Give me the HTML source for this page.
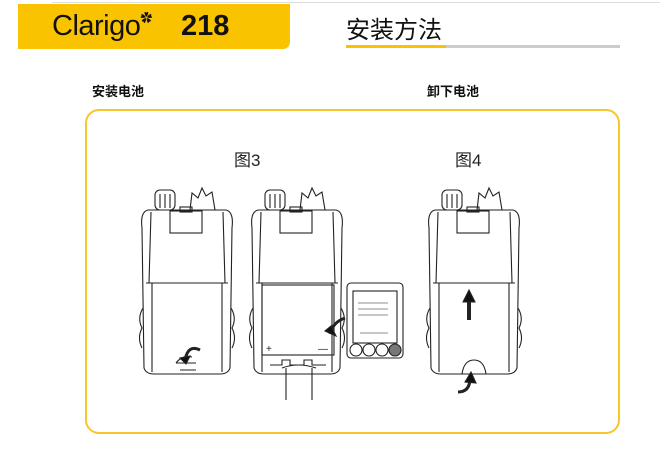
<!DOCTYPE html>
<html><head><meta charset="utf-8"><style>
body{margin:0;width:660px;height:454px;background:#fff;position:relative;overflow:hidden;font-family:"Liberation Sans","Noto Sans CJK SC",sans-serif}
.a{position:absolute;line-height:1}
</style></head><body>
<div class="a" style="left:52px;top:2px;width:608px;height:1px;background:#ddd"></div>
<div class="a" style="left:18px;top:4px;width:272px;height:45px;background:#f9c300;border-bottom-right-radius:7px"></div>
<div class="a" style="left:52px;top:12px;font-size:29px;color:#111;letter-spacing:-0.5px">Clarigo<span style="font-size:12px;vertical-align:top">✿</span></div>
<div class="a" style="left:181px;top:12px;font-size:29px;font-weight:bold;color:#111">218</div>
<div class="a" style="left:346px;top:19px;font-size:24px;color:#111">安装方法</div>
<div class="a" style="left:346px;top:45px;width:100px;height:3px;background:#f9c300"></div>
<div class="a" style="left:446px;top:45px;width:174px;height:3px;background:#ccc"></div>
<div class="a" style="left:92px;top:85px;font-size:13px;font-weight:bold;color:#111">安装电池</div>
<div class="a" style="left:427px;top:85px;font-size:13px;font-weight:bold;color:#111">卸下电池</div>
<div class="a" style="left:85px;top:109px;width:531px;height:321px;border:2px solid #f7c62a;border-radius:14px"></div>
<div class="a" style="left:234px;top:152px;font-size:17px;color:#222">图3</div>
<div class="a" style="left:455px;top:152px;font-size:17px;color:#222">图4</div>
<svg class="a" style="left:0;top:0" width="660" height="454" fill="none" stroke="#222" stroke-width="1.1">
<defs>
<g id="r">
<rect x="15" y="2" width="20" height="20" rx="5"/><path d="M20 6v14M25 6v14M30 6v14"/>
<path d="M50 22 L52 5 L58 10 L62 0 L66 8 L72 4 L75 22"/>
<path d="M8 22 Q0 24 2 40 L4 180 Q6 186 14 186 L80 186 Q88 186 90 180 L92 40 Q94 24 86 22 Z"/>
<path d="M11 24 L9 95 M83 24 L85 95"/>
<rect x="30" y="23" width="32" height="22"/><rect x="40" y="19" width="12" height="5"/>
<path d="M6 95 L88 95 M12 95 L12 184 M82 95 L82 184"/>
<path d="M3 120 Q-3 130 2 140 Q-3 150 2 160 M91 120 Q97 130 92 140 Q97 150 92 160"/>
</g>
</defs>
<use href="#r" x="140" y="188"/>
<use href="#r" x="250" y="188"/>
<use href="#r" x="427" y="188"/>
<path d="M176 363 Q182 355 192 357 M176 363 L196 363 M180 370 L196 370" />
<path d="M185 360 Q188 344 200 350" stroke-width="3"/><path d="M180 358 L186 364 L190 356Z" fill="#111"/>
<rect x="262" y="285" width="72" height="70" />
<path d="M270 365h12v-5h8v5h14v-5h8v5h14" /><text x="266" y="352" font-size="10" fill="#222" stroke="none">+</text><text x="318" y="352" font-size="10" fill="#222" stroke="none">—</text>
<path d="M286 368 L286 400 M312 368 L312 400 M282 368 Q298 362 316 368"/>
<rect x="347" y="283" width="56" height="75" rx="4"/>
<rect x="353" y="291" width="44" height="52"/>
<circle cx="356" cy="350" r="6"/><circle cx="369" cy="350" r="6"/><circle cx="382" cy="350" r="6"/><circle cx="395" cy="350" r="6" fill="#777"/>
<path d="M358 303h30M358 309h30M358 315h30M360 333h28" stroke-width="0.6"/>
<path d="M345 318 Q333 322 330 334" stroke-width="3"/><path d="M325 331 L336 336 L331 326Z" fill="#111"/>
<path d="M469 320 V298" stroke-width="4"/><path d="M463 302 L469 290 L475 302Z" fill="#111"/>
<path d="M462 374 Q464 360 474 360 Q484 360 486 374"/>
<path d="M470 378 Q470 392 458 392" stroke-width="3"/><path d="M465 382 L471 372 L476 383Z" fill="#111"/>
</svg>
</body></html>
